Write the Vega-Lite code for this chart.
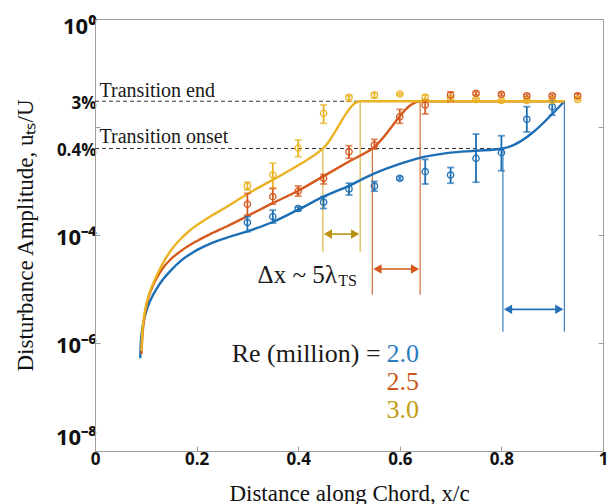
{
  "$schema": "https://vega.github.io/schema/vega-lite/v6.json",
  "width": 508,
  "height": 432,
  "autosize": {"type": "none"},
  "padding": {"left": 95, "top": 19, "right": 7, "bottom": 53},
  "background": "white",
  "config": {
    "view": {"stroke": "#a0a0a0", "strokeWidth": 1},
    "axis": {"grid": false, "domainColor": "#a0a0a0", "tickColor": "#a0a0a0", "labelColor": "#111111", "titleColor": "#111111"}
  },
  "datasets": {
    "curves": [
      {"s": "2.0", "x": 0.089, "y": 5.25e-7}, {"s": "2.0", "x": 0.0905, "y": 1.12e-6}, {"s": "2.0", "x": 0.093, "y": 1.78e-6},
      {"s": "2.0", "x": 0.097, "y": 2.82e-6}, {"s": "2.0", "x": 0.103, "y": 4.47e-6}, {"s": "2.0", "x": 0.111, "y": 6.76e-6},
      {"s": "2.0", "x": 0.121, "y": 1.0e-5}, {"s": "2.0", "x": 0.134, "y": 1.51e-5}, {"s": "2.0", "x": 0.150, "y": 2.24e-5},
      {"s": "2.0", "x": 0.170, "y": 3.39e-5}, {"s": "2.0", "x": 0.195, "y": 4.9e-5}, {"s": "2.0", "x": 0.225, "y": 6.76e-5},
      {"s": "2.0", "x": 0.26, "y": 8.91e-5}, {"s": "2.0", "x": 0.30, "y": 1.17e-4}, {"s": "2.0", "x": 0.35, "y": 1.74e-4},
      {"s": "2.0", "x": 0.40, "y": 2.95e-4}, {"s": "2.0", "x": 0.45, "y": 5.13e-4}, {"s": "2.0", "x": 0.50, "y": 8.13e-4},
      {"s": "2.0", "x": 0.55, "y": 1.38e-3}, {"s": "2.0", "x": 0.60, "y": 2.07e-3}, {"s": "2.0", "x": 0.65, "y": 2.82e-3},
      {"s": "2.0", "x": 0.70, "y": 3.35e-3}, {"s": "2.0", "x": 0.75, "y": 3.63e-3}, {"s": "2.0", "x": 0.803, "y": 4.0e-3},
      {"s": "2.0", "x": 0.924, "y": 3.0e-2},
      {"s": "2.5", "x": 0.0915, "y": 6.3e-7}, {"s": "2.5", "x": 0.093, "y": 1.26e-6}, {"s": "2.5", "x": 0.0955, "y": 2.24e-6},
      {"s": "2.5", "x": 0.099, "y": 3.8e-6}, {"s": "2.5", "x": 0.104, "y": 6.3e-6}, {"s": "2.5", "x": 0.111, "y": 1.0e-5},
      {"s": "2.5", "x": 0.12, "y": 1.51e-5}, {"s": "2.5", "x": 0.133, "y": 2.4e-5}, {"s": "2.5", "x": 0.150, "y": 3.63e-5},
      {"s": "2.5", "x": 0.170, "y": 5.13e-5}, {"s": "2.5", "x": 0.195, "y": 7.24e-5}, {"s": "2.5", "x": 0.225, "y": 1.02e-4},
      {"s": "2.5", "x": 0.26, "y": 1.45e-4}, {"s": "2.5", "x": 0.30, "y": 2.24e-4}, {"s": "2.5", "x": 0.35, "y": 3.89e-4},
      {"s": "2.5", "x": 0.40, "y": 6.6e-4}, {"s": "2.5", "x": 0.45, "y": 1.23e-3}, {"s": "2.5", "x": 0.50, "y": 2.29e-3},
      {"s": "2.5", "x": 0.546, "y": 4.0e-3}, {"s": "2.5", "x": 0.640, "y": 3.0e-2}, {"s": "2.5", "x": 0.924, "y": 3.0e-2},
      {"s": "3.0", "x": 0.0915, "y": 7.1e-7}, {"s": "3.0", "x": 0.093, "y": 1.51e-6}, {"s": "3.0", "x": 0.096, "y": 2.82e-6},
      {"s": "3.0", "x": 0.100, "y": 4.79e-6}, {"s": "3.0", "x": 0.107, "y": 8.3e-6}, {"s": "3.0", "x": 0.12, "y": 1.66e-5},
      {"s": "3.0", "x": 0.135, "y": 3.16e-5}, {"s": "3.0", "x": 0.153, "y": 5.75e-5}, {"s": "3.0", "x": 0.17, "y": 8.7e-5},
      {"s": "3.0", "x": 0.186, "y": 1.2e-4}, {"s": "3.0", "x": 0.21, "y": 1.74e-4}, {"s": "3.0", "x": 0.23, "y": 2.29e-4},
      {"s": "3.0", "x": 0.252, "y": 3.02e-4}, {"s": "3.0", "x": 0.30, "y": 5.75e-4}, {"s": "3.0", "x": 0.35, "y": 1.05e-3},
      {"s": "3.0", "x": 0.40, "y": 1.95e-3}, {"s": "3.0", "x": 0.449, "y": 4.0e-3}, {"s": "3.0", "x": 0.522, "y": 3.0e-2},
      {"s": "3.0", "x": 0.924, "y": 3.0e-2}
    ],
    "pts": [
      {"s": "2.0", "x": 0.30, "y": 1.7e-4, "lo": 1.15e-4, "hi": 2.19e-4},
      {"s": "2.0", "x": 0.35, "y": 2.19e-4, "lo": 1.66e-4, "hi": 2.88e-4},
      {"s": "2.0", "x": 0.40, "y": 3.09e-4, "lo": 2.82e-4, "hi": 3.31e-4},
      {"s": "2.0", "x": 0.45, "y": 4.03e-4, "lo": 3.09e-4, "hi": 5.13e-4},
      {"s": "2.0", "x": 0.50, "y": 7.1e-4, "lo": 5.5e-4, "hi": 9.1e-4},
      {"s": "2.0", "x": 0.55, "y": 8.1e-4, "lo": 6.5e-4, "hi": 9.8e-4},
      {"s": "2.0", "x": 0.60, "y": 1.12e-3, "lo": 1.05e-3, "hi": 1.2e-3},
      {"s": "2.0", "x": 0.65, "y": 1.49e-3, "lo": 8.8e-4, "hi": 2.51e-3},
      {"s": "2.0", "x": 0.70, "y": 1.29e-3, "lo": 9.1e-4, "hi": 1.78e-3},
      {"s": "2.0", "x": 0.75, "y": 2.63e-3, "lo": 9.5e-4, "hi": 7.4e-3},
      {"s": "2.0", "x": 0.80, "y": 3.35e-3, "lo": 1.55e-3, "hi": 6.9e-3},
      {"s": "2.0", "x": 0.85, "y": 1.39e-2, "lo": 8.1e-3, "hi": 2.38e-2},
      {"s": "2.0", "x": 0.90, "y": 2.38e-2, "lo": 1.66e-2, "hi": 3.02e-2},
      {"s": "3.0", "x": 0.30, "y": 8.1e-4, "lo": 6.8e-4, "hi": 9.5e-4},
      {"s": "3.0", "x": 0.35, "y": 1.29e-3, "lo": 7.3e-4, "hi": 2.14e-3},
      {"s": "3.0", "x": 0.40, "y": 4.07e-3, "lo": 2.82e-3, "hi": 5.75e-3},
      {"s": "3.0", "x": 0.45, "y": 1.79e-2, "lo": 1.17e-2, "hi": 2.57e-2},
      {"s": "3.0", "x": 0.50, "y": 3.55e-2, "lo": 3.0e-2, "hi": 3.8e-2},
      {"s": "3.0", "x": 0.55, "y": 3.9e-2, "lo": 3.44e-2, "hi": 4.3e-2},
      {"s": "3.0", "x": 0.60, "y": 4.08e-2, "lo": 3.9e-2, "hi": 4.25e-2},
      {"s": "3.0", "x": 0.65, "y": 3.55e-2, "lo": 3.26e-2, "hi": 3.9e-2},
      {"s": "3.0", "x": 0.70, "y": 3.39e-2, "lo": 3.2e-2, "hi": 3.6e-2},
      {"s": "3.0", "x": 0.75, "y": 3.24e-2, "lo": 3.1e-2, "hi": 3.4e-2},
      {"s": "3.0", "x": 0.80, "y": 3.09e-2, "lo": 2.95e-2, "hi": 3.25e-2},
      {"s": "3.0", "x": 0.85, "y": 3.09e-2, "lo": 2.95e-2, "hi": 3.25e-2},
      {"s": "3.0", "x": 0.90, "y": 3.09e-2, "lo": 2.95e-2, "hi": 3.25e-2},
      {"s": "3.0", "x": 0.95, "y": 3.24e-2, "lo": 3.1e-2, "hi": 3.4e-2},
      {"s": "2.5", "x": 0.30, "y": 3.72e-4, "lo": 2.34e-4, "hi": 5.9e-4},
      {"s": "2.5", "x": 0.35, "y": 5.13e-4, "lo": 3.72e-4, "hi": 7.3e-4},
      {"s": "2.5", "x": 0.40, "y": 6.5e-4, "lo": 5.25e-4, "hi": 8.1e-4},
      {"s": "2.5", "x": 0.45, "y": 1.12e-3, "lo": 8.8e-4, "hi": 1.32e-3},
      {"s": "2.5", "x": 0.50, "y": 3.49e-3, "lo": 2.63e-3, "hi": 4.5e-3},
      {"s": "2.5", "x": 0.55, "y": 4.65e-3, "lo": 3.9e-3, "hi": 5.9e-3},
      {"s": "2.5", "x": 0.60, "y": 1.55e-2, "lo": 1.17e-2, "hi": 2.12e-2},
      {"s": "2.5", "x": 0.65, "y": 2.55e-2, "lo": 1.74e-2, "hi": 3.16e-2},
      {"s": "2.5", "x": 0.70, "y": 3.92e-2, "lo": 2.95e-2, "hi": 4.47e-2},
      {"s": "2.5", "x": 0.75, "y": 4.2e-2, "lo": 3.9e-2, "hi": 4.5e-2},
      {"s": "2.5", "x": 0.80, "y": 4.03e-2, "lo": 3.8e-2, "hi": 4.3e-2},
      {"s": "2.5", "x": 0.85, "y": 3.8e-2, "lo": 3.6e-2, "hi": 4.0e-2},
      {"s": "2.5", "x": 0.90, "y": 3.8e-2, "lo": 3.6e-2, "hi": 4.0e-2},
      {"s": "2.5", "x": 0.95, "y": 3.8e-2, "lo": 3.6e-2, "hi": 4.1e-2}
    ],
    "dashed": [
      {"x": 0, "x2": 0.522, "y": 0.03},
      {"x": 0, "x2": 0.803, "y": 0.004}
    ],
    "vlines": [
      {"s": "3.0", "x": 0.4485, "y": 4.9e-5, "y2": 0.004},
      {"s": "3.0", "x": 0.522, "y": 4.9e-5, "y2": 0.03},
      {"s": "2.5", "x": 0.546, "y": 7.8e-6, "y2": 0.004},
      {"s": "2.5", "x": 0.640, "y": 7.8e-6, "y2": 0.03},
      {"s": "2.0", "x": 0.803, "y": 1.62e-6, "y2": 0.004},
      {"s": "2.0", "x": 0.924, "y": 1.62e-6, "y2": 0.03}
    ],
    "arrows": [
      {"s": "3.0", "x": 0.455, "x2": 0.516, "y": 1.04e-4},
      {"s": "2.5", "x": 0.552, "x2": 0.634, "y": 2.34e-5},
      {"s": "2.0", "x": 0.809, "x2": 0.918, "y": 4.2e-6}
    ],
    "heads": [
      {"s": "3.0", "x": 0.4585, "y": 1.04e-4, "dir": "left"},
      {"s": "3.0", "x": 0.512, "y": 1.04e-4, "dir": "right"},
      {"s": "2.5", "x": 0.556, "y": 2.34e-5, "dir": "left"},
      {"s": "2.5", "x": 0.630, "y": 2.34e-5, "dir": "right"},
      {"s": "2.0", "x": 0.813, "y": 4.2e-6, "dir": "left"},
      {"s": "2.0", "x": 0.914, "y": 4.2e-6, "dir": "right"}
    ],
    "notes": [
      {"t": "Transition end", "x": 0.009, "y": 0.0355},
      {"t": "Transition onset", "x": 0.009, "y": 0.005}
    ],
    "delta": [{"t": "Δx ~ 5λ", "x": 0.32, "y": 1.29e-5}],
    "deltasub": [{"t": "TS", "x": 0.479, "y": 1.14e-5}],
    "re": [{"t": "Re (million) =", "x": 0.269, "y": 4.45e-7}],
    "revals": [
      {"s": "2.0", "t": "2.0", "x": 0.574, "y": 4.45e-7},
      {"s": "2.5", "t": "2.5", "x": 0.574, "y": 1.35e-7},
      {"s": "3.0", "t": "3.0", "x": 0.574, "y": 4.08e-8}
    ],
    "frame": [{"x": 0.5, "y": 0.01}]
  },
  "layer": [
    {
      "encoding": {
        "x": {
          "field": "x", "type": "quantitative",
          "scale": {"domain": [0, 1], "nice": false, "zero": false},
          "axis": {
            "title": "Distance along Chord, x/c",
            "values": [0, 0.2, 0.4, 0.6, 0.8, 1],
            "format": "~g",
            "labelFont": "Open Sans", "labelFontWeight": "bold", "labelFontSize": 17,
            "labelPadding": 5, "tickSize": -5, "labelFlush": false,
            "titleFont": "Liberation Serif", "titleFontWeight": "normal", "titleFontSize": 23,
            "titleY": 49, "titleBaseline": "alphabetic"
          }
        },
        "y": {
          "field": "y", "type": "quantitative",
          "scale": {"type": "log", "domain": [1e-8, 1], "nice": false},
          "axis": {
            "title": "Disturbance Amplitude, uₜₛ/U",
            "values": [1, 0.03, 0.01, 0.004, 0.0001, 0.000001, 0.00000001],
            "labelExpr": "datum.value > 0.5 ? '10⁰' : (datum.value > 0.02 && datum.value < 0.05) ? '3%' : (datum.value > 0.005 && datum.value < 0.02) ? '' : (datum.value > 0.003 && datum.value < 0.005) ? '0.4%' : datum.value > 0.00005 ? '10⁻⁴' : datum.value > 0.0000005 ? '10⁻⁶' : '10⁻⁸'",
            "labelFont": "Open Sans", "labelFontWeight": "bold",
            "labelFontSize": {"condition": {"test": "datum.value > 0.003 && datum.value < 0.05", "value": 17}, "value": 22},
            "labelOffset": {"condition": [{"test": "datum.value > 0.5", "value": 7}, {"test": "datum.value < 0.0000001", "value": -14}], "value": 2},
            "tickOpacity": {"condition": {"test": "(datum.value > 0.02 && datum.value < 0.05) || (datum.value > 0.003 && datum.value < 0.005)", "value": 0}, "value": 1},
            "labelPadding": 4, "tickSize": -5, "labelFlush": false, "labelOverlap": false,
            "titleFont": "Liberation Serif", "titleFontWeight": "normal", "titleFontSize": 23,
            "titleX": -63, "titleBaseline": "alphabetic"
          }
        }
      },
      "layer": [
        {
          "data": {"name": "dashed"},
          "mark": {"type": "rule", "strokeDash": [4, 3], "strokeWidth": 1, "color": "#333333"},
          "encoding": {"x2": {"field": "x2"}}
        },
        {
          "data": {"name": "vlines"},
          "mark": {"type": "rule", "strokeWidth": 1.2},
          "encoding": {
            "y2": {"field": "y2"},
            "color": {"field": "s", "type": "nominal", "legend": null, "scale": {"domain": ["2.0", "2.5", "3.0"], "range": ["#3a7fc0", "#d0703a", "#d8b440"]}}
          }
        },
        {
          "data": {"name": "arrows"},
          "mark": {"type": "rule", "strokeWidth": 1.6},
          "encoding": {
            "x2": {"field": "x2"},
            "color": {"field": "s", "type": "nominal", "legend": null, "scale": {"domain": ["2.0", "2.5", "3.0"], "range": ["#2470b8", "#d2581c", "#b99210"]}}
          }
        },
        {
          "data": {"name": "heads"},
          "mark": {"type": "point", "filled": true, "size": 90, "opacity": 1},
          "encoding": {
            "shape": {"field": "dir", "type": "nominal", "legend": null, "scale": {"domain": ["left", "right"], "range": ["triangle-left", "triangle-right"]}},
            "color": {"field": "s", "type": "nominal", "legend": null, "scale": {"domain": ["2.0", "2.5", "3.0"], "range": ["#2470b8", "#d2581c", "#b99210"]}}
          }
        },
        {
          "data": {"name": "curves"},
          "mark": {"type": "line", "strokeWidth": 2.4, "interpolate": "monotone"},
          "encoding": {
            "color": {"field": "s", "type": "nominal", "legend": null, "scale": {"domain": ["2.0", "2.5", "3.0"], "range": ["#1d6fb5", "#d45a1e", "#e9b324"]}}
          }
        },
        {
          "data": {"name": "pts"},
          "mark": {"type": "rule", "strokeWidth": 1.8},
          "encoding": {
            "y": {"field": "lo", "type": "quantitative"},
            "y2": {"field": "hi"},
            "color": {"field": "s", "type": "nominal", "legend": null, "scale": {"domain": ["2.0", "2.5", "3.0"], "range": ["#1d6fb5", "#d45a1e", "#e9b324"]}}
          }
        },
        {
          "data": {"name": "pts"},
          "transform": [{"fold": ["lo", "hi"], "as": ["k", "yc"]}],
          "mark": {"type": "tick", "orient": "horizontal", "size": 7, "thickness": 1.8},
          "encoding": {
            "y": {"field": "yc", "type": "quantitative"},
            "color": {"field": "s", "type": "nominal", "legend": null, "scale": {"domain": ["2.0", "2.5", "3.0"], "range": ["#1d6fb5", "#d45a1e", "#e9b324"]}}
          }
        },
        {
          "data": {"name": "pts"},
          "mark": {"type": "point", "shape": "circle", "filled": false, "size": 40, "strokeWidth": 1.3, "opacity": 1},
          "encoding": {
            "color": {"field": "s", "type": "nominal", "legend": null, "scale": {"domain": ["2.0", "2.5", "3.0"], "range": ["#1d6fb5", "#d45a1e", "#e9b324"]}}
          }
        },
        {
          "data": {"name": "notes"},
          "mark": {"type": "text", "align": "left", "baseline": "alphabetic", "font": "Liberation Serif", "fontSize": 20, "color": "#1a1a1a"},
          "encoding": {"text": {"field": "t"}}
        },
        {
          "data": {"name": "delta"},
          "mark": {"type": "text", "align": "left", "baseline": "alphabetic", "font": "Liberation Serif", "fontSize": 25, "color": "#1a1a1a"},
          "encoding": {"text": {"field": "t"}}
        },
        {
          "data": {"name": "deltasub"},
          "mark": {"type": "text", "align": "left", "baseline": "alphabetic", "font": "Liberation Serif", "fontSize": 16, "color": "#1a1a1a"},
          "encoding": {"text": {"field": "t"}}
        },
        {
          "data": {"name": "re"},
          "mark": {"type": "text", "align": "left", "baseline": "alphabetic", "font": "Liberation Serif", "fontSize": 26, "color": "#1a1a1a"},
          "encoding": {"text": {"field": "t"}}
        },
        {
          "data": {"name": "revals"},
          "mark": {"type": "text", "align": "left", "baseline": "alphabetic", "font": "Liberation Serif", "fontSize": 26},
          "encoding": {
            "text": {"field": "t"},
            "color": {"field": "s", "type": "nominal", "legend": null, "scale": {"domain": ["2.0", "2.5", "3.0"], "range": ["#2c7cc2", "#c85a1e", "#c29c12"]}}
          }
        }
      ],
      "resolve": {"scale": {"color": "independent", "shape": "independent"}}
    },
    {
      "data": {"name": "frame"},
      "mark": {"type": "point", "opacity": 0},
      "encoding": {
        "x": {"field": "x", "type": "quantitative", "scale": {"domain": [0, 1], "nice": false, "zero": false}},
        "y": {
          "field": "y", "type": "quantitative",
          "scale": {"type": "log", "domain": [1e-8, 1], "nice": false},
          "axis": {"orient": "right", "title": null, "labels": false, "domain": false, "values": [1, 0.01, 0.0001, 0.000001, 0.00000001], "tickSize": -5}
        }
      }
    }
  ],
  "resolve": {"axis": {"y": "independent"}}
}
